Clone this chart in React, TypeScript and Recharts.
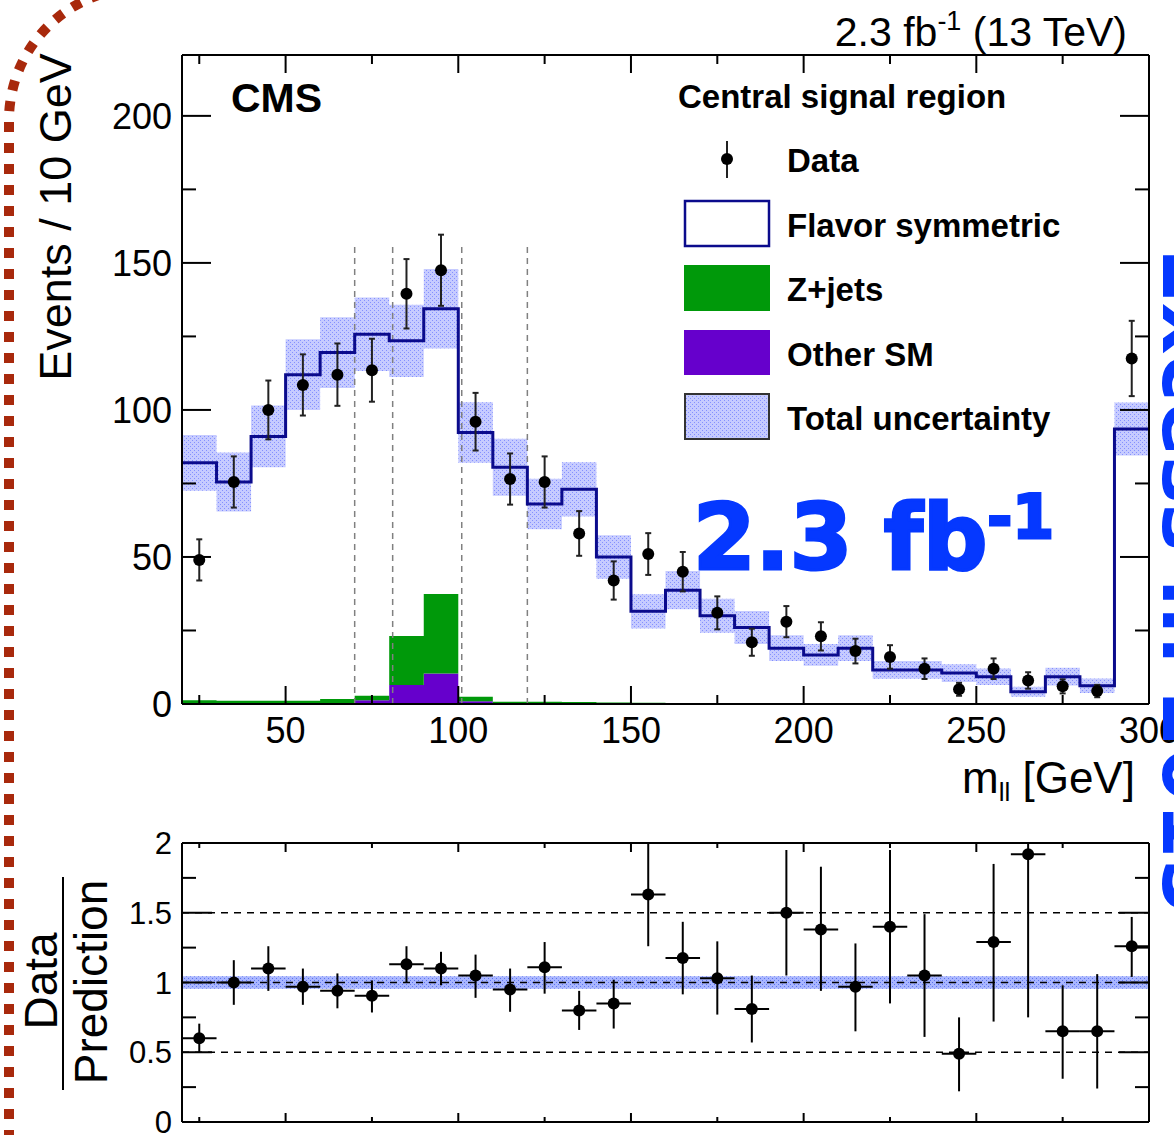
import React from 'react';
import { ComposedChart, Line, Area, Scatter, ErrorBar, XAxis, YAxis, ReferenceLine } from 'recharts';

// bins of 10 GeV, last one holds the overflow
const binLow = [20, 30, 40, 50, 60, 70, 80, 90, 100, 110, 120, 130, 140, 150, 160, 170, 180, 190, 200, 210, 220, 230, 240, 250, 260, 270, 280, 290];
const binCenter = [25, 35, 45, 55, 65, 75, 85, 95, 105, 115, 125, 135, 145, 155, 165, 175, 185, 195, 205, 215, 225, 235, 245, 255, 265, 275, 285, 295];
const binHalf = 5;
const xMax = 300;

const fsPred = [82, 75.5, 91, 112, 119.5, 125.7, 123.5, 134.4, 92.3, 80.5, 68, 73, 50, 31.5, 38.7, 30, 26, 19, 16.7, 19, 11.6, 11.6, 10.5, 9.3, 4.2, 9.3, 6.2, 93.5];
const fsUnc = [9.5, 10, 10.5, 12, 12, 12.5, 12.3, 13.5, 10.3, 9.7, 8.6, 9.2, 7.4, 5.8, 6.5, 5.8, 5.6, 4.4, 3.7, 4.4, 3, 3, 3, 2.8, 1.7, 3, 2.5, 9];
const otherSM = [0.3, 0.3, 0.3, 0.3, 0.3, 1.3, 6.5, 10.4, 0.9, 0.3, 0.3, 0.3, 0.2, 0.2, 0.1, 0.1, 0.1, 0.1, 0.1, 0.1, 0.1, 0.1, 0.1, 0.1, 0.1, 0.1, 0.1, 0.1];
const zJets = [1, 0.8, 0.8, 0.8, 1.4, 1.5, 16.6, 27, 1.6, 0.5, 0.5, 0.4, 0.3, 0.2, 0.1, 0.1, 0.1, 0.1, 0.1, 0.1, 0.1, 0.1, 0.1, 0.1, 0.1, 0.1, 0.1, 0.1];

const dataY = [49, 75.5, 100, 108.5, 112, 113.5, 139.5, 147.5, 96, 76.5, 75.5, 58, 42, 51, 45, 31, 21, 28, 23, 18, 16, 12, 5, 12, 8, 6, 4.4, 117.5];
const dataErr = [7, 8.7, 10, 10.4, 10.6, 10.7, 11.8, 12.1, 9.8, 8.7, 8.7, 7.6, 6.5, 7.1, 6.7, 5.6, 4.6, 5.3, 4.8, 4.2, 4, 3.5, 2.2, 3.5, 2.8, 2.4, 2.1, 12.8];

const ratioY = [0.6, 1.0, 1.1, 0.97, 0.94, 0.905, 1.13, 1.1, 1.05, 0.95, 1.11, 0.8, 0.85, 1.63, 1.175, 1.03, 0.81, 1.5, 1.38, 0.97, 1.4, 1.05, 0.49, 1.29, 1.92, 0.65, 0.65, 1.26];
const ratioErrLo = [0.105, 0.16, 0.16, 0.13, 0.125, 0.12, 0.13, 0.12, 0.16, 0.16, 0.19, 0.14, 0.18, 0.37, 0.26, 0.26, 0.24, 0.45, 0.44, 0.32, 0.55, 0.44, 0.27, 0.57, 1.17, 0.34, 0.41, 0.22];
const ratioErrHi = [0.105, 0.16, 0.16, 0.13, 0.125, 0.11, 0.13, 0.12, 0.15, 0.15, 0.18, 0.14, 0.17, 0.365, 0.26, 0.265, 0.24, 0.45, 0.45, 0.31, 0.55, 0.44, 0.26, 0.56, 0.08, 0.33, 0.41, 0.21];
const ratioUnc = 0.045;

const cutEdges = [70, 81, 101, 120];
const cutTop = 157;

const xTicks = [25, 50, 75, 100, 125, 150, 175, 200, 225, 250, 275, 300];
const yTicks = [0, 25, 50, 75, 100, 125, 150, 175, 200];
const ratioTicks = [0, 0.25, 0.5, 0.75, 1, 1.25, 1.5, 1.75, 2];

const FONT = '"Liberation Sans", Arial, Helvetica, sans-serif';
const NAVY = '#0b0b8c';
const GREEN = '#00990a';
const PURPLE = '#6600cc';
const BLUE = '#0538ff';

const histRows = [...binLow, xMax].map((x, i) => {
  const j = Math.min(i, binLow.length - 1);
  return {
    x,
    fs: fsPred[j],
    band: [fsPred[j] - fsUnc[j], fsPred[j] + fsUnc[j]],
    other: otherSM[j],
    zjets: zJets[j],
  };
});
const dataPts = binCenter.map((x, i) => ({ x, y: dataY[i], err: dataErr[i] }));
const ratioPts = binCenter.map((x, i) => ({ x, y: ratioY[i], xe: binHalf, ye: [ratioErrLo[i], ratioErrHi[i]] }));
const ratioBand = [binLow[0], xMax].map((x) => ({ x, band: [1 - ratioUnc, 1 + ratioUnc] }));

const isMajor = (v: number, step: number) => Math.abs(v / step - Math.round(v / step)) < 1e-6;

const xTick = (dir: number, majLen: number, minLen: number, label?: { fs: number; dy: number }) => (p: any) => {
  const v = p.payload.value;
  const major = isMajor(v, 50);
  return (
    <g>
      <line x1={p.x} y1={p.y} x2={p.x} y2={p.y + dir * (major ? majLen : minLen)} stroke="#000" strokeWidth={2} />
      {label && major && (
        <text x={p.x} y={p.y + label.dy} textAnchor="middle" fontSize={label.fs} fontFamily={FONT} fill="#000">
          {v}
        </text>
      )}
    </g>
  );
};

const yTick = (dir: number, step: number, majLen: number, minLen: number, label?: { fs: number }) => (p: any) => {
  const v = p.payload.value;
  const major = isMajor(v, step);
  return (
    <g>
      <line x1={p.x} y1={p.y} x2={p.x + dir * (major ? majLen : minLen)} y2={p.y} stroke="#000" strokeWidth={2} />
      {label && major && (
        <text x={p.x - 10} y={p.y + label.fs * 0.36} textAnchor="end" fontSize={label.fs} fontFamily={FONT} fill="#000">
          {v}
        </text>
      )}
    </g>
  );
};

const dot = (p: any) => <circle cx={p.cx} cy={p.cy} r={6} fill="#000" />;
const frame = { stroke: '#000', strokeWidth: 2 };

const Hatch = ({ id, bg, fg }: { id: string; bg: string; fg: string }) => (
  <pattern id={id} width="4" height="4" patternUnits="userSpaceOnUse">
    <rect width="4" height="4" fill={bg} />
    <rect x="0" y="0" width="1" height="1" fill={fg} />
    <rect x="2" y="2" width="1" height="1" fill={fg} />
  </pattern>
);

function MainPanel() {
  return (
    <ComposedChart width={1174} height={810} data={histRows} margin={{ top: 25, right: 0, bottom: 0, left: 0 }}>
      <defs>
        <Hatch id="hatchTop" bg="#c6cbff" fg="#8490ff" />
      </defs>
      <XAxis dataKey="x" type="number" domain={[20, 300]} allowDataOverflow ticks={xTicks} interval={0} height={106}
        tickSize={0} tickMargin={0} tickLine={false} axisLine={frame} tick={xTick(-1, 18, 9, { fs: 36, dy: 39 })} />
      <XAxis xAxisId="t" orientation="top" dataKey="x" type="number" domain={[20, 300]} allowDataOverflow ticks={xTicks}
        interval={0} height={30} tickSize={0} tickMargin={0} tickLine={false} axisLine={frame} tick={xTick(1, 18, 9)} />
      <YAxis type="number" domain={[0, 220.7]} allowDataOverflow ticks={yTicks} interval={0} width={182}
        tickSize={0} tickMargin={0} tickLine={false} axisLine={frame} tick={yTick(1, 50, 29, 14, { fs: 36 })} />
      <YAxis yAxisId="r" orientation="right" type="number" domain={[0, 220.7]} allowDataOverflow ticks={yTicks}
        interval={0} width={25} tickSize={0} tickMargin={0} tickLine={false} axisLine={frame} tick={yTick(-1, 50, 29, 14)} />
      <Area type="stepAfter" dataKey="other" stackId="s" stroke="none" fill={PURPLE} fillOpacity={1} isAnimationActive={false} />
      <Area type="stepAfter" dataKey="zjets" stackId="s" stroke="none" fill={GREEN} fillOpacity={1} isAnimationActive={false} />
      <Area type="stepAfter" dataKey="band" stroke="none" fill="url(#hatchTop)" fillOpacity={1} isAnimationActive={false} />
      {cutEdges.map((c) => (
        <ReferenceLine key={c} segment={[{ x: c, y: 0 }, { x: c, y: cutTop }]} stroke="#808080" strokeWidth={1.5} strokeDasharray="6 5" />
      ))}
      <Line type="stepAfter" dataKey="fs" stroke={NAVY} strokeWidth={3} dot={false} activeDot={false} isAnimationActive={false} />
      <Scatter data={dataPts} dataKey="y" shape={dot} isAnimationActive={false}>
        <ErrorBar dataKey="err" direction="y" width={3} stroke="#222" strokeWidth={2} />
      </Scatter>
    </ComposedChart>
  );
}

function RatioPanel() {
  return (
    <ComposedChart width={1174} height={325} data={ratioBand} margin={{ top: 3, right: 0, bottom: 0, left: 0 }}>
      <defs>
        <Hatch id="hatchRatio" bg="#a9b6ff" fg="#5c74ee" />
      </defs>
      <XAxis dataKey="x" type="number" domain={[20, 300]} allowDataOverflow ticks={xTicks} interval={0} height={13}
        tickSize={0} tickMargin={0} tickLine={false} axisLine={frame} tick={xTick(-1, 9, 5)} />
      <XAxis xAxisId="t" orientation="top" dataKey="x" type="number" domain={[20, 300]} allowDataOverflow ticks={xTicks}
        interval={0} height={30} tickSize={0} tickMargin={0} tickLine={false} axisLine={frame} tick={xTick(1, 9, 5)} />
      <YAxis type="number" domain={[0, 2]} allowDataOverflow ticks={ratioTicks} interval={0} width={182}
        tickSize={0} tickMargin={0} tickLine={false} axisLine={frame} tick={yTick(1, 0.5, 30, 14, { fs: 31 })} />
      <YAxis yAxisId="r" orientation="right" type="number" domain={[0, 2]} allowDataOverflow ticks={ratioTicks}
        interval={0} width={25} tickSize={0} tickMargin={0} tickLine={false} axisLine={frame} tick={yTick(-1, 0.5, 30, 14)} />
      <Area type="linear" dataKey="band" stroke="none" fill="url(#hatchRatio)" fillOpacity={1} isAnimationActive={false} />
      <ReferenceLine y={0.5} stroke="#000" strokeWidth={1.5} strokeDasharray="7 6" />
      <ReferenceLine y={1} stroke="#000" strokeWidth={1.5} strokeDasharray="7 6" />
      <ReferenceLine y={1.5} stroke="#000" strokeWidth={1.5} strokeDasharray="7 6" />
      <Scatter data={ratioPts} dataKey="y" shape={dot} isAnimationActive={false}>
        <ErrorBar dataKey="xe" direction="x" width={0} stroke="#000" strokeWidth={2} />
        <ErrorBar dataKey="ye" direction="y" width={0} stroke="#000" strokeWidth={2} />
      </Scatter>
    </ComposedChart>
  );
}

function Overlay() {
  const legendText = { fontFamily: FONT, fontWeight: 700, fontSize: 33, fill: '#000' } as const;
  return (
    <svg width={1174} height={1135} style={{ position: 'absolute', left: 0, top: 0, pointerEvents: 'none' }}>
      {/* border decoration */}
      <path d="M 9 1140 L 9 120 A 132 132 0 0 1 141 -12 L 1200 -12" fill="none" stroke="#a8290c" strokeWidth={10} strokeDasharray="10 11" />

      <text x={1127} y={46} textAnchor="end" fontFamily={FONT} fontSize={41} fill="#000">
        2.3 fb<tspan dy={-16} fontSize={27}>-1</tspan><tspan dy={16}> (13 TeV)</tspan>
      </text>
      <text x={231} y={112} fontFamily={FONT} fontWeight={700} fontSize={41} fill="#000">CMS</text>
      <text x={678} y={108} fontFamily={FONT} fontWeight={700} fontSize={33} fill="#000">Central signal region</text>

      {/* legend */}
      <line x1={727} y1={141} x2={727} y2={178} stroke="#222" strokeWidth={2} />
      <circle cx={727} cy={159} r={6} fill="#000" />
      <text x={787} y={172} {...legendText}>Data</text>
      <rect x={685} y={201} width={84} height={45} fill="#fff" stroke={NAVY} strokeWidth={2.5} />
      <text x={787} y={237} {...legendText}>Flavor symmetric</text>
      <rect x={684} y={265} width={86} height={46} fill={GREEN} />
      <text x={787} y={301} {...legendText}>Z+jets</text>
      <rect x={684} y={330} width={86} height={45} fill={PURPLE} />
      <text x={787} y={366} {...legendText}>Other SM</text>
      <rect x={685} y={394} width={84} height={45} fill="url(#hatchTop)" stroke="#333" strokeWidth={2} />
      <text x={787} y={430} {...legendText}>Total uncertainty</text>

      {/* axis titles */}
      <text transform="translate(71 217) rotate(-90)" textAnchor="middle" fontFamily={FONT} fontSize={45} fill="#000">
        Events / 10 GeV
      </text>
      <text x={962} y={793} fontFamily={FONT} fontSize={44} fill="#000">
        m<tspan fontSize={26} dy={8}>ll</tspan><tspan dy={-8}> [GeV]</tspan>
      </text>
      <text transform="translate(57 981) rotate(-90)" textAnchor="middle" fontFamily={FONT} fontSize={46} fill="#000">Data</text>
      <line x1={63} y1={877} x2={63} y2={1090} stroke="#000" strokeWidth={2} />
      <text transform="translate(107 982) rotate(-90)" textAnchor="middle" fontFamily={FONT} fontSize={46} fill="#000">Prediction</text>

      {/* slide annotations */}
      <text x={693} y={569} fontFamily="'DejaVu Sans', sans-serif" fontWeight={700} fontSize={90} fill={BLUE} stroke={BLUE} strokeWidth={3}>
        2.3 fb<tspan fontSize={60} dy={-31}>-1</tspan>
      </text>
      <text transform="translate(1163 248) rotate(90)" fontFamily="'DejaVu Sans', sans-serif" fontWeight={700} fontSize={80} fill={BLUE}>
        Excess in 2015
      </text>
    </svg>
  );
}

export default function App() {
  return (
    <div style={{ position: 'absolute', left: 0, top: 0, width: 1174, height: 1135, background: '#fff', overflow: 'hidden' }}>
      <div style={{ position: 'absolute', left: 0, top: 0 }}>
        <MainPanel />
      </div>
      <div style={{ position: 'absolute', left: 0, top: 810 }}>
        <RatioPanel />
      </div>
      <Overlay />
    </div>
  );
}
